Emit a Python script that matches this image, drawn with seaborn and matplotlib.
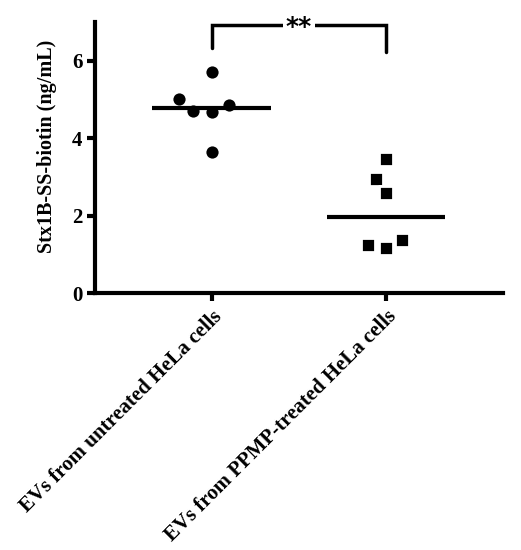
import pandas as pd
import matplotlib
matplotlib.use('Agg')
import matplotlib.pyplot as plt
import seaborn as sns

# Values (ng/mL)
groups = ['EVs from untreated HeLa cells', 'EVs from PPMP-treated HeLa cells']
untreated = [5.71, 4.86, 5.01, 4.67, 4.71, 3.65]
ppmp = [3.47, 2.94, 2.58, 1.37, 1.17, 1.24]
yticks = [0, 2, 4, 6]

df = pd.DataFrame({
    'group': [groups[0]] * len(untreated) + [groups[1]] * len(ppmp),
    'value': untreated + ppmp,
})

sns.set_style('ticks')
plt.rcParams['font.family'] = ['Liberation Serif', 'DejaVu Serif']
plt.rcParams['font.weight'] = 'bold'
for k in ['text.color', 'axes.labelcolor', 'xtick.color', 'ytick.color', 'axes.edgecolor']:
    plt.rcParams[k] = 'black'

fig = plt.figure(figsize=(5.21, 5.5), dpi=100)
ax = fig.add_axes([0.182, 0.467, 0.783, 0.493])

# white edge keeps the swarm spacing a bit wider than the visible marker
markers = ['o', 's']
sizes = [10.8, 10.2]
for g, m, s in zip(groups, markers, sizes):
    sns.swarmplot(data=df[df['group'] == g], x='group', y='value', order=groups,
                  marker=m, color='black', size=s, ax=ax,
                  edgecolor='white', linewidth=2.0)

# median lines
med = df.groupby('group')['value'].median()
for i, g in enumerate(groups):
    ax.hlines(med[g], i - 0.34, i + 0.34, color='black', lw=3, zorder=5)

# significance bracket
ax.plot([0, 0, 1, 1], [6.33, 6.93, 6.93, 6.23], color='black', lw=2.5,
        solid_joinstyle='miter', clip_on=False)
ax.text(0.5, 6.88, '**', ha='center', va='center', fontsize=18,
        family='DejaVu Sans', fontweight='bold',
        bbox=dict(facecolor='white', edgecolor='none', pad=2.0), clip_on=False)

ax.set_xlim(-0.67, 1.67)
ax.set_ylim(0, 7)
ax.set_yticks(yticks)
ax.set_xlabel('')
ax.set_ylabel('Stx1B-SS-biotin (ng/mL)', fontsize=14.5, fontweight='bold')
ax.yaxis.set_label_coords(-0.093, 0.54)
ax.tick_params(axis='both', width=3, length=6, labelsize=15, direction='out')
ax.tick_params(axis='y', pad=3)
ax.set_xticks([0, 1])
ax.set_xticklabels(groups, rotation=45, ha='right', rotation_mode='anchor',
                   fontsize=15, fontweight='bold')
for sp in ['left', 'bottom']:
    ax.spines[sp].set_linewidth(3)
sns.despine(ax=ax)

fig.savefig('out.png', dpi=100)
